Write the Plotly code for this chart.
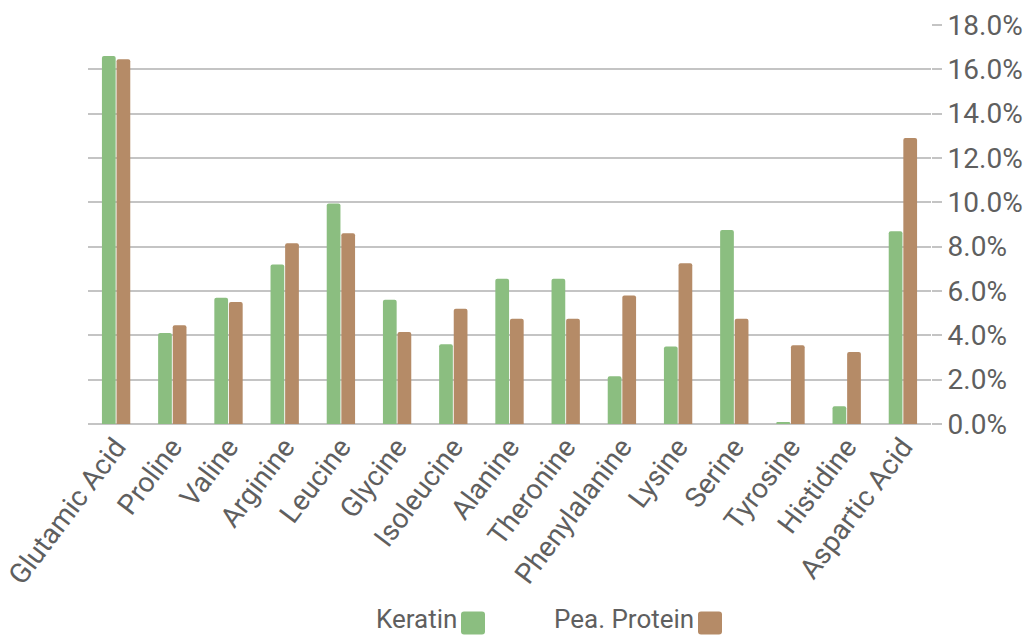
import plotly.graph_objects as go

# Amino acid composition (% of total protein)
amino_acids = ["Glutamic Acid", "Proline", "Valine", "Arginine", "Leucine", "Glycine",
               "Isoleucine", "Alanine", "Theronine", "Phenylalanine", "Lysine", "Serine",
               "Tyrosine", "Histidine", "Aspartic Acid"]
keratin = [16.6, 4.1, 5.7, 7.2, 9.95, 5.6, 3.6, 6.55, 6.55, 2.15, 3.5, 8.75, 0.08, 0.8, 8.7]
pea_protein = [16.45, 4.45, 5.5, 8.15, 8.6, 4.15, 5.2, 4.75, 4.75, 5.8, 7.25, 4.75, 3.55, 3.25, 12.9]

series_names = ["Keratin", "Pea. Protein"]
colors = ["#8BBE80", "#B58B67"]
y_ticks = [0, 2, 4, 6, 8, 10, 12, 14, 16, 18]

FONT = "Roboto, Arial, sans-serif"
TEXT = "#5F5F5F"
GRID = "#C4C4C4"
FS = 28
LEGEND_FS = 26

# plot-area geometry in pixels
W, H = 1024, 637
L, R, T, B = 88, 93, 25, 213
PW, PH = W - L - R, H - T - B

fig = go.Figure()
for name, vals, col in zip(series_names, [keratin, pea_protein], colors):
    fig.add_trace(go.Bar(
        x=amino_acids, y=vals, name=name,
        marker=dict(color=col, cornerradius=2, line=dict(width=0)),
        showlegend=False,
    ))

fig.update_layout(
    width=W, height=H,
    margin=dict(l=L, r=R, t=T, b=B),
    paper_bgcolor="white", plot_bgcolor="white",
    barmode="group", bargap=0.48, bargroupgap=0.06,
    font=dict(family=FONT, size=FS, color=TEXT),
    xaxis=dict(
        tickangle=-53, showgrid=False, ticks="", automargin=False,
        showline=False, tickfont=dict(size=FS, color=TEXT),
    ),
    yaxis=dict(
        side="right", range=[0, 18], tickvals=y_ticks, automargin=False,
        ticktext=[f"{v:.1f}%" for v in y_ticks],
        showgrid=True, gridcolor=GRID, gridwidth=1.5,
        zeroline=True, zerolinecolor=GRID, zerolinewidth=1.5,
        ticks="outside", ticklen=10, tickcolor=GRID, tickwidth=1.5,
        showline=False, tickfont=dict(size=FS, color=TEXT),
    ),
)


def px(v):
    return (v - L) / PW


def py(v):
    return (H - B - v) / PH


# Legend: label followed by a rounded colour swatch
legend_items = [("Keratin", 458, 461), ("Pea. Protein", 695, 698)]
for (label, text_right, sw_left), col in zip(legend_items, colors):
    fig.add_annotation(
        text=label, xref="paper", yref="paper",
        x=px(text_right), y=py(619),
        xanchor="right", yanchor="middle", showarrow=False, borderpad=0,
        font=dict(family=FONT, size=LEGEND_FS, color=TEXT),
    )
    x0, x1 = sw_left, sw_left + 24
    y0, y1 = 611.5, 634.5
    r = 3
    pts = [
        ("M", x0 + r, y0), ("L", x1 - r, y0), ("Q", x1, y0), ("", x1, y0 + r),
        ("L", x1, y1 - r), ("Q", x1, y1), ("", x1 - r, y1), ("L", x0 + r, y1),
        ("Q", x0, y1), ("", x0, y1 - r), ("L", x0, y0 + r), ("Q", x0, y0), ("", x0 + r, y0),
    ]
    path = " ".join(f"{c} {px(a):.5f},{py(b):.5f}".strip() for c, a, b in pts) + " Z"
    fig.add_shape(type="path", path=path, xref="paper", yref="paper",
                  fillcolor=col, line=dict(width=0))

fig.write_html("out.html")
